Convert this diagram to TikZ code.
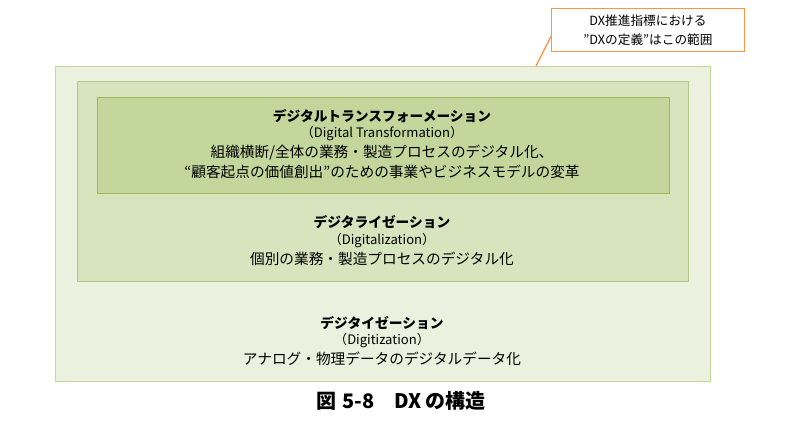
\documentclass[tikz,border=0pt]{standalone}
\usepackage{fontspec}
\setmainfont{Noto Sans CJK JP}
\usetikzlibrary{calc}
\definecolor{outerfill}{HTML}{EBF1DE}
\definecolor{outerline}{HTML}{C3D69B}
\definecolor{midfill}{HTML}{D7E4BD}
\definecolor{midline}{HTML}{B3C98A}
\definecolor{innerfill}{HTML}{C3D69B}
\definecolor{innerline}{HTML}{9BBB59}
\definecolor{noteline}{HTML}{F79646}
\tikzset{
  layerbox/.style={draw=#1line, fill=#1fill, line width=0.9pt, anchor=north west, inner sep=0pt},
  titletext/.style={font=\fontsize{10.3}{12}\selectfont\bfseries, inner sep=0pt},
  subtext/.style={font=\fontsize{9.8}{11}\selectfont, inner sep=0pt},
  bodytext/.style={font=\fontsize{11}{12}\selectfont, inner sep=0pt},
  notetext/.style={font=\fontsize{9.5}{11}\selectfont, inner sep=0pt},
}
\begin{document}
\begin{tikzpicture}[x=0.75pt,y=-0.75pt]
\useasboundingbox (0,0) rectangle (800,427);
\fill[white] (0,0) rectangle (800,427);
% layers
\node[layerbox=outer, minimum width=491.25pt, minimum height=236.25pt] (outer) at (55,66) {};
\node[layerbox=mid, minimum width=458.25pt, minimum height=150pt] (mid) at (77,81) {};
\node[layerbox=inner, minimum width=429pt, minimum height=72pt] (inner) at (97,97) {};
% annotation
\node[draw=noteline, fill=white, line width=1pt, anchor=north west, minimum width=144.75pt, minimum height=32.25pt, inner sep=0pt] (note) at (551,8) {};
\node[notetext] (note1) at (648,21) {DX推進指標における};
\node[notetext] (note2) at (648,40) {”DXの定義”はこの範囲};
\coordinate (lineA) at (536,66);
\coordinate (lineB) at ($(note.south west)+(0,12pt)$);
\draw[noteline, line width=1pt] (lineA) -- (lineB);
% inner texts
\node[titletext] (t1) at (382,116) {デジタルトランスフォーメーション};
\node[subtext] (s1) at (382,134) {（Digital Transformation）};
\node[bodytext] (b1a) at (382,153) {組織横断/全体の業務・製造プロセスのデジタル化、};
\node[bodytext] (b1b) at (382,172) {“顧客起点の価値創出”のための事業やビジネスモデルの変革};
% middle texts
\node[titletext] (t2) at (382,222) {デジタライゼーション};
\node[subtext] (s2) at (382,241) {（Digitalization）};
\node[bodytext] (b2) at (382,259) {個別の業務・製造プロセスのデジタル化};
% outer texts
\node[titletext] (t3) at (382,323) {デジタイゼーション};
\node[subtext] (s3) at (382,341) {（Digitization）};
\node[bodytext] (b3) at (382,359) {アナログ・物理データのデジタルデータ化};
% caption
\node[font=\fontsize{15}{17}\selectfont\bfseries, inner sep=0pt] (cap) at (401,401) {図\hspace{0.3em}5-8\hspace{1em}DX の構造};
\end{tikzpicture}
\end{document}
